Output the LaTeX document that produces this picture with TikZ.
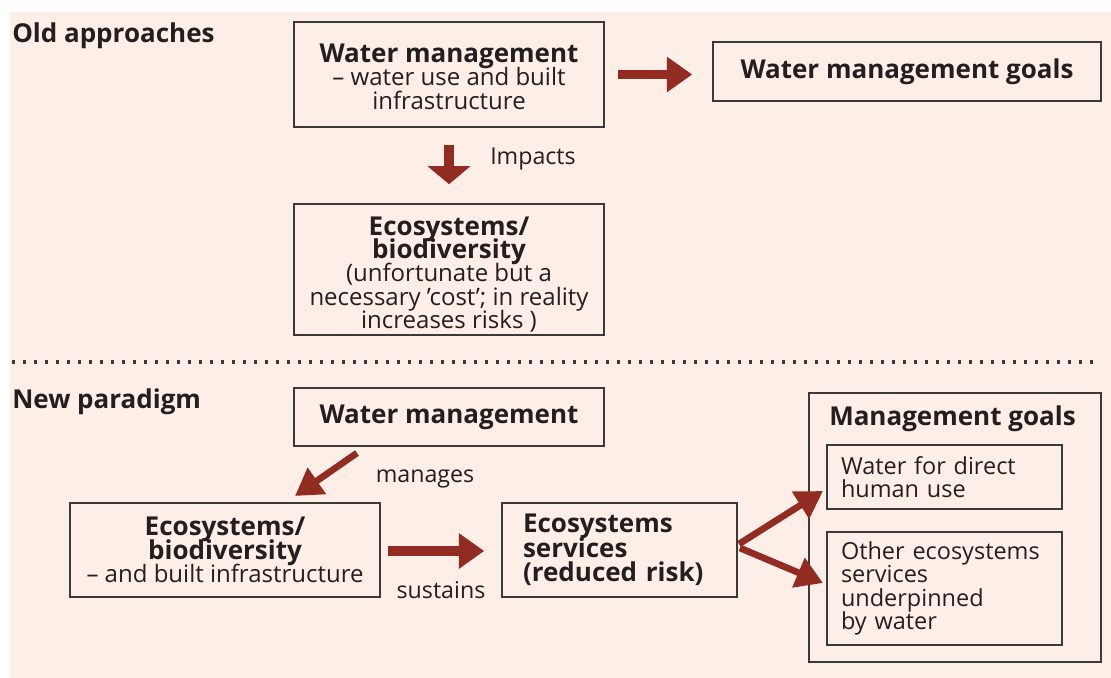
\documentclass[tikz,border=0pt]{standalone}
\usepackage{fontspec}
\setmainfont{Open Sans}
\usetikzlibrary{arrows.meta}
\definecolor{bg}{HTML}{FDEEE7}
\definecolor{arr}{HTML}{922B21}
\definecolor{txt}{HTML}{231F20}
\definecolor{edge}{HTML}{3A3A3A}
\newcommand{\bt}[1]{{\fontsize{19.5}{20}\selectfont\bfseries #1}}
\newcommand{\tightls}{\setlength{\lineskiplimit}{-30pt}}
\begin{document}
\begin{tikzpicture}[x=0.75pt,y=-0.75pt,
  boxc/.style={draw=edge,line width=1.2pt,inner sep=0pt,text=txt,align=center,
    font=\fontsize{18}{17.6}\selectfont\tightls},
  boxl/.style={draw=edge,line width=1.2pt,inner xsep=10.5pt,inner ysep=0pt,text=txt,align=left,
    font=\fontsize{17.6}{17.6}\selectfont\tightls},
  heading/.style={text=txt,inner sep=0pt,anchor=west,font=\fontsize{19.5}{20}\selectfont\bfseries},
  lbl/.style={text=txt,inner sep=0pt,font=\fontsize{17.4}{18}\selectfont},
  bigarrow/.style={draw=arr,line width=6.9pt,-{Triangle[length=19pt,width=25.5pt]}},
  downarrow/.style={draw=arr,line width=8pt,-{Triangle[length=13.5pt,width=31.5pt]}},
  midarrow/.style={draw=arr,line width=5pt,-{Triangle[length=20pt,width=23pt]}}
]
\useasboundingbox (0,0) rectangle (1111,678);
\fill[white] (0,0) rectangle (1111,678);
\fill[bg] (10,12) rectangle (1111,678);

% headings
\node[heading] (hold) at (12,36) {Old approaches};
\node[heading] (hnew) at (12,402) {New paradigm};

% old approaches
\node[boxc,minimum width=232.5pt,minimum height=78.75pt] (owm) at (449,74.5)
  {\rule{0pt}{17pt}\bt{Water management}\\– water use and built\\infrastructure};
\node[boxc,minimum width=291pt,minimum height=44.25pt] (goals) at (907,71.5)
  {\bt{Water management goals}};
\node[boxc,minimum width=232.5pt,minimum height=98.25pt] (oeco) at (449,269.5)
  {\rule{0pt}{21.5pt}\bt{Ecosystems/}\\\bt{biodiversity}\\(unfortunate but a\\necessary ’cost’; in reality\\increases risks )};

\draw[bigarrow,shorten <=9.75pt,shorten >=15pt] (owm.east) -- (owm.east -| goals.west);
\draw[downarrow,shorten <=12.75pt,shorten >=14.25pt] (owm.south) -- (oeco.north);
\node[lbl,anchor=west] (limp) at (490,159.5) {Impacts};

% dotted separator
\coordinate (dl) at (12,362);
\coordinate (dr) at (1100,362);
\draw[edge,line width=2.4pt,dash pattern=on 2.6pt off 5.65pt] (dl) -- (dr);

% new paradigm
\node[boxc,minimum width=232.5pt,minimum height=43.5pt] (nwm) at (449,417)
  {\bt{Water management}};
\node[boxc,minimum width=232.5pt,minimum height=70.5pt] (neco) at (225,550)
  {\bt{Ecosystems/}\\\bt{biodiversity}\\– and built infrastructure};
\node[boxl,minimum height=70.5pt,inner xsep=15.75pt,text width=144.75pt,font=\fontsize{19.5}{18.4}\selectfont\bfseries\tightls] (ess) at (619.5,550)
  {Ecosystems\\services\\(reduced risk)};
\node[draw=edge,line width=1.2pt,minimum width=219pt,minimum height=201.75pt,inner sep=0pt] (mg) at (955,527.5) {};
\node[heading] (mgt) at (829,419) {Management goals};
\node[boxl,minimum height=48pt,text width=155.25pt] (in1) at (944.5,477)
  {Water for direct\\human use};
\node[boxl,minimum height=84.75pt,text width=155.25pt] (in2) at (944.5,588.5)
  {Other ecosystems\\services\\underpinned\\by water};

\coordinate (m1) at (357,453);
\coordinate (m2) at (295,496);
\draw[midarrow] (m1) -- (m2);
\node[lbl] (lman) at (425,479) {manages};

\draw[bigarrow,shorten <=5.25pt,shorten >=12.75pt] (neco.east |- 0,551) -- (ess.west |- 0,551);
\node[lbl] (lsus) at (441,590) {sustains};

\coordinate (s1) at (739,544);
\coordinate (s2) at (740,548);
\coordinate (t1) at (823,491);
\coordinate (t2) at (823,583);
\draw[midarrow] (s1) -- (t1);
\draw[midarrow] (s2) -- (t2);
\end{tikzpicture}
\end{document}
